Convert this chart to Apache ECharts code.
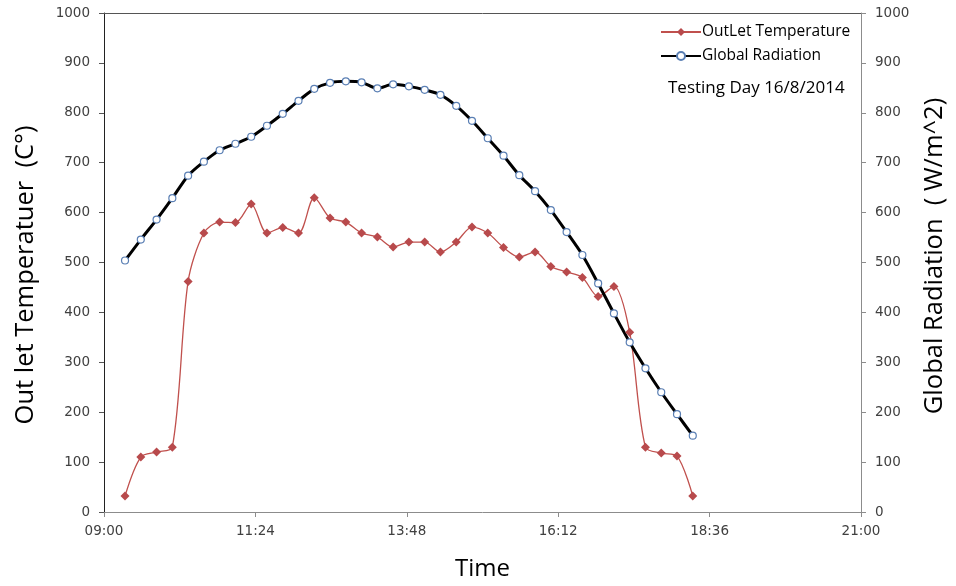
<!DOCTYPE html>
<html>
<head>
<meta charset="utf-8">
<script src="https://cdn.jsdelivr.net/npm/echarts@6/dist/echarts.min.js"></script>
<style>html,body{margin:0;padding:0;background:#fff;}#c{width:956px;height:586px;}</style>
</head>
<body>
<div id="c"></div>
<script>
var times = ["09:20","09:35","09:50","10:05","10:20","10:35","10:50","11:05","11:20","11:35",
  "11:50","12:05","12:20","12:35","12:50","13:05","13:20","13:35","13:50","14:05",
  "14:20","14:35","14:50","15:05","15:20","15:35","15:50","16:05","16:20","16:35",
  "16:50","17:05","17:20","17:35","17:50","18:05","18:20"];
var outletTemperature = [32,110,120,130,462,559,581,580,617,559,570,559,630,589,581,559,551,531,541,541,
  521,541,571,559,530,511,521,492,481,470,432,452,360,130,118,112,32];
var globalRadiation = [504,546,586,629,674,702,725,738,752,774,798,824,848,860,863,861,849,857,853,846,
  836,814,784,749,714,675,643,605,561,515,458,398,340,288,240,196,153];
var xTickLabels = ["09:00","11:24","13:48","16:12","18:36","21:00"];

var BASE = 9 * 60; // minutes offset of axis start
function toMin(t){ var p = t.split(":"); return (+p[0]) * 60 + (+p[1]) - BASE; }

var tempData = times.map(function(t, i){ return [toMin(t), outletTemperature[i]]; });
var radData = times.map(function(t, i){ return [toMin(t), globalRadiation[i]]; });

var tickFont = {fontFamily: "DejaVu Sans", fontSize: 13.5, color: "#404040"};
function plain(v){ return String(v); }
var chart = echarts.init(document.getElementById("c"));
chart.setOption({
  animation: false,
  backgroundColor: "#fff",
  grid: {left: 104, right: 94, top: 13, bottom: 72},
  title: {
    text: "Testing Day 16/8/2014", left: 663, top: 75,
    textStyle: {fontFamily: "Open Sans", fontSize: 17, fontWeight: "normal", color: "#000"}
  },
  legend: {
    orient: "vertical", left: 655, top: 19, itemGap: 8, itemWidth: 40, itemHeight: 10,
    textStyle: {fontFamily: "Open Sans", fontSize: 15.5, color: "#000", padding: [0,0,0,-4]},
    data: ["OutLet Temperature", "Global Radiation"]
  },
  xAxis: [{
    type: "value", min: 0, max: 720, interval: 144,
    name: "Time", nameLocation: "middle", nameGap: 45,
    nameTextStyle: {fontFamily: "Open Sans", fontSize: 24, color: "#000"},
    axisLine: {onZero: false, lineStyle: {color: "#8c8c8c", width: 1}},
    axisTick: {show: true, length: 5, lineStyle: {color: "#8c8c8c"}},
    splitLine: {show: false},
    axisLabel: Object.assign({margin: 12, formatter: function(v){ return xTickLabels[Math.round(v / 144)]; }}, tickFont)
  }, {
    type: "value", min: 0, max: 720, position: "top",
    axisLine: {show: true, onZero: false, lineStyle: {color: "#555", width: 1}},
    axisTick: {show: false}, axisLabel: {show: false}, splitLine: {show: false}
  }],
  yAxis: [{
    type: "value", min: 0, max: 1000, interval: 100, position: "left",
    name: "Out let Temperatuer  (C°)", nameLocation: "middle", nameGap: 65,
    nameTextStyle: {fontFamily: "Open Sans", fontSize: 25.5, color: "#000", padding: [0, 25, 0, 0]},
    axisLine: {show: true, onZero: false, lineStyle: {color: "#222", width: 1}},
    axisTick: {show: true, length: 5, lineStyle: {color: "#555"}},
    splitLine: {show: false},
    axisLabel: Object.assign({margin: 14, formatter: plain}, tickFont)
  }, {
    type: "value", min: 0, max: 1000, interval: 100, position: "right",
    name: "Global Radiation  ( W/m^2)", nameLocation: "middle", nameGap: 61,
    nameTextStyle: {fontFamily: "Open Sans", fontSize: 25.5, color: "#000", padding: [0, 0, 0, 13]},
    axisLine: {show: true, onZero: false, lineStyle: {color: "#8c8c8c", width: 1}},
    axisTick: {show: true, length: 5, lineStyle: {color: "#8c8c8c"}},
    splitLine: {show: false},
    axisLabel: Object.assign({margin: 14, formatter: plain}, tickFont)
  }],
  series: [{
    name: "OutLet Temperature", type: "line", yAxisIndex: 0, data: tempData,
    smooth: 0.3, symbol: "diamond", symbolSize: 9,
    lineStyle: {color: "#c0504d", width: 1.3},
    itemStyle: {color: "#b84a4c", borderWidth: 0}
  }, {
    name: "Global Radiation", type: "line", yAxisIndex: 1, data: radData,
    smooth: 0.3, symbol: "circle", symbolSize: 7,
    lineStyle: {color: "#000", width: 3},
    itemStyle: {color: "#fff", borderColor: "#5a7fb4", borderWidth: 1.2}
  }]
});
</script>
</body>
</html>
